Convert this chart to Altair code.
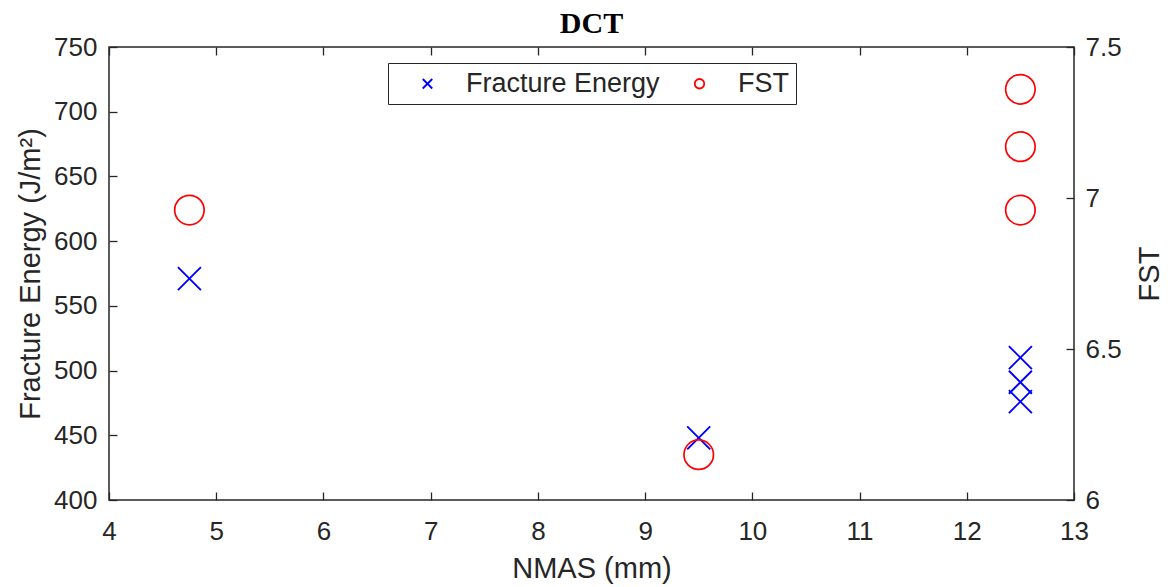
import altair as alt
import pandas as pd

# ---- data ----
series_names = ["Fracture Energy", "FST"]
nmas_fe = [4.75, 9.5, 12.5, 12.5, 12.5]
fracture_energy = [571, 448, 510, 491, 476]
nmas_fst = [4.75, 9.5, 12.5, 12.5, 12.5]
fst = [6.96, 6.15, 7.36, 7.17, 6.96]
x_ticks = [4, 5, 6, 7, 8, 9, 10, 11, 12, 13]
fe_ticks = [400, 450, 500, 550, 600, 650, 700, 750]
fst_ticks = [6, 6.5, 7, 7.5]

df = pd.DataFrame({
    "nmas": nmas_fe + nmas_fst,
    "value": fracture_energy + fst,
    "series": [series_names[0]] * len(nmas_fe) + [series_names[1]] * len(nmas_fst),
})

INK = "#262626"
FONT = "Liberation Sans"
X_SHAPE = "M-1,-1L1,1M-1,1L1,-1"

legend = alt.Legend(
    title=None, orient="none", legendX=279, legendY=16, direction="horizontal",
    strokeColor=INK, fillColor="white", padding=7,
    labelFont=FONT, labelFontSize=27, labelColor=INK, labelLimit=500,
    symbolSize=90, symbolStrokeWidth=1.8, symbolOffset=19,
    labelOffset=25, columnPadding=7,
)

color = alt.Color("series:N", scale=alt.Scale(domain=series_names, range=["#0000ff", "#ff0000"]), legend=legend)
shape = alt.Shape("series:N", scale=alt.Scale(domain=series_names, range=[X_SHAPE, "circle"]), legend=legend)

x_scale = alt.Scale(domain=[4, 13], nice=False, zero=False)

axis_common = dict(
    offset=-8, tickSize=8, domain=False, grid=False, labelFlush=False,
    tickColor=INK, tickWidth=1.3,
    labelFont=FONT, labelFontSize=26, labelColor=INK,
    titleFont=FONT, titleFontSize=29, titleColor=INK, titleFontWeight="normal",
)

base = alt.Chart(df)

fe_layer = base.transform_filter(alt.datum.series == series_names[0]).mark_point(
    filled=False, strokeWidth=1.9, size=530, opacity=1
).encode(
    x=alt.X("nmas:Q", scale=x_scale,
            axis=alt.Axis(orient="bottom", values=x_ticks, format="d", labelPadding=18,
                          title="NMAS (mm)", titlePadding=10, **axis_common)),
    y=alt.Y("value:Q", scale=alt.Scale(domain=[400, 750], nice=False, zero=False),
            axis=alt.Axis(orient="left", values=fe_ticks, format="d", labelPadding=12,
                          title="Fracture Energy (J/m²)", titlePadding=8, **axis_common)),
    color=color,
    shape=shape,
)

fst_layer = base.transform_filter(alt.datum.series == series_names[1]).mark_point(
    filled=False, strokeWidth=1.7, size=870, opacity=1
).encode(
    x=alt.X("nmas:Q", scale=x_scale,
            axis=alt.Axis(orient="top", values=x_ticks, labels=False, title=None,
                          **{k: v for k, v in axis_common.items() if not k.startswith("title")})),
    y=alt.Y("value:Q", scale=alt.Scale(domain=[6, 7.5], nice=False, zero=False),
            axis=alt.Axis(orient="right", values=fst_ticks, format="~g", labelPadding=11,
                          title="FST", titleAngle=270, titleBaseline="top", titlePadding=14,
                          **axis_common)),
    color=color,
    shape=shape,
)

chart = alt.layer(fe_layer, fst_layer).resolve_scale(
    y="independent"
).resolve_axis(
    x="independent", y="independent"
).properties(
    width=965, height=453,
    padding={"left": 109, "top": 47, "right": 94, "bottom": 87},
    autosize=alt.AutoSizeParams(type="none"),
    title=alt.TitleParams("DCT", font="Liberation Serif", fontSize=30, fontWeight="bold",
                          color="black", anchor="middle", offset=-5),
    background="white",
).configure_view(
    stroke=INK, strokeWidth=1.5
)

chart.save("out.html", embed_options={"renderer": "svg", "actions": False})
